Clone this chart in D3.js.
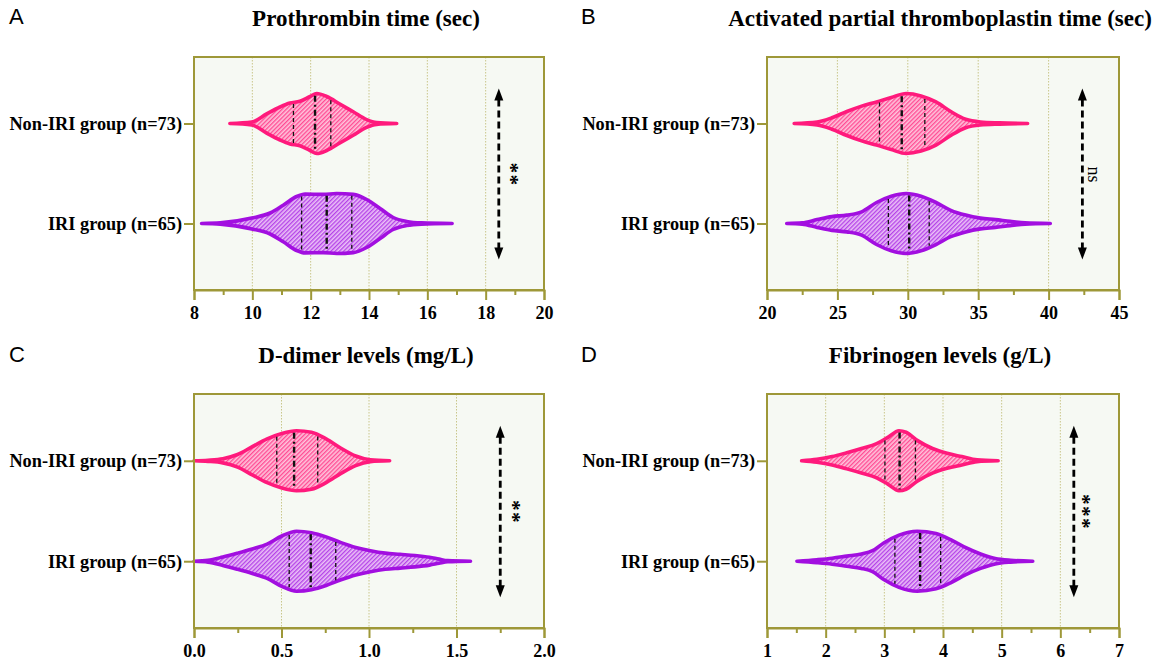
<!DOCTYPE html>
<html>
<head>
<meta charset="utf-8">
<script src="https://cdn.jsdelivr.net/npm/d3@7"></script>
<style>
  html, body { margin: 0; padding: 0; background: #ffffff; }
  svg { display: block; }
</style>
</head>
<body>
<svg id="chart" width="1159" height="663"></svg>
<script>
// ---------------- DATA ----------------
const panelLetters = ["A", "B", "C", "D"];
const panelTitles = [
  "Prothrombin time (sec)",
  "Activated partial thromboplastin time (sec)",
  "D-dimer levels (mg/L)",
  "Fibrinogen levels (g/L)"
];
const groups = ["Non-IRI group (n=73)", "IRI group (n=65)"];

const xDomains = [[8, 20], [20, 45], [0, 2], [1, 7]];
const xTickValues = [
  [8, 10, 12, 14, 16, 18, 20],
  [20, 25, 30, 35, 40, 45],
  [0, 0.5, 1.0, 1.5, 2.0],
  [1, 2, 3, 4, 5, 6, 7]
];
const xTickLabels = [
  ["8", "10", "12", "14", "16", "18", "20"],
  ["20", "25", "30", "35", "40", "45"],
  ["0.0", "0.5", "1.0", "1.5", "2.0"],
  ["1", "2", "3", "4", "5", "6", "7"]
];
const xMinorTicks = [
  [9, 11, 13, 15, 17, 19],
  [22.5, 27.5, 32.5, 37.5, 42.5],
  [0.25, 0.75, 1.25, 1.75],
  [1.5, 2.5, 3.5, 4.5, 5.5, 6.5]
];

// violin profiles: [value, relative density]
const ptNonIRI = [[9.23,0],[9.98,0.05],[10.49,0.32],[10.95,0.55],[11.29,0.68],[11.63,0.74],[11.98,0.9],[12.21,1],[12.55,0.9],[13.0,0.65],[13.46,0.39],[13.92,0.13],[14.26,0.03],[14.95,0]];
const ptIRI    = [[8.26,0],[8.9,0.02],[9.98,0.18],[10.61,0.35],[11.06,0.61],[11.52,0.9],[11.81,0.98],[12.43,0.97],[12.89,1],[13.46,0.97],[13.92,0.8],[14.38,0.5],[14.83,0.2],[15.29,0.07],[15.8,0.02],[16.85,0]];
const apttNonIRI = [[21.93,0],[23.56,0.05],[24.61,0.19],[25.67,0.4],[26.72,0.58],[27.78,0.72],[28.83,0.87],[29.89,1],[30.94,0.92],[32.0,0.72],[33.05,0.4],[34.11,0.14],[35.16,0.05],[36.5,0.02],[38.51,0]];
const apttIRI    = [[21.4,0],[22.5,0.02],[23.56,0.13],[24.61,0.23],[25.67,0.28],[26.72,0.39],[27.78,0.7],[28.83,0.91],[29.89,1],[30.94,0.91],[32.0,0.7],[33.05,0.44],[34.11,0.28],[35.16,0.18],[36.22,0.13],[37.27,0.07],[38.33,0.02],[40.12,0]];
const ddNonIRI = [[0,0],[0.08,0.02],[0.165,0.07],[0.249,0.21],[0.333,0.47],[0.418,0.73],[0.502,0.91],[0.586,1],[0.671,0.95],[0.755,0.73],[0.84,0.42],[0.924,0.16],[1.008,0.03],[1.118,0]];
const ddIRI    = [[0,0],[0.08,0.03],[0.165,0.14],[0.249,0.27],[0.333,0.41],[0.418,0.57],[0.502,0.84],[0.586,1],[0.671,0.95],[0.755,0.81],[0.84,0.62],[0.924,0.46],[1.008,0.35],[1.093,0.27],[1.177,0.23],[1.262,0.19],[1.346,0.13],[1.40,0.07],[1.45,0.02],[1.58,0]];
const fibNonIRI = [[1.59,0],[1.85,0.05],[2.11,0.14],[2.36,0.27],[2.61,0.41],[2.87,0.57],[3.06,0.78],[3.25,1],[3.37,0.95],[3.56,0.68],[3.82,0.41],[4.07,0.25],[4.32,0.14],[4.58,0.03],[4.94,0]];
const fibIRI    = [[1.51,0],[1.85,0.05],[2.11,0.1],[2.36,0.17],[2.61,0.24],[2.8,0.35],[2.99,0.61],[3.25,0.87],[3.56,1],[3.88,0.92],[4.13,0.72],[4.39,0.45],[4.64,0.24],[4.89,0.09],[5.15,0.03],[5.53,0]];

const violins = [[ptNonIRI, ptIRI], [apttNonIRI, apttIRI], [ddNonIRI, ddIRI], [fibNonIRI, fibIRI]];

// quartiles [Q1, median, Q3]
const quartiles = [
  [[11.41, 12.15, 12.69], [11.69, 12.55, 13.41]],
  [[27.99, 29.57, 31.21], [28.62, 30.10, 31.52]],
  [[0.473, 0.572, 0.707], [0.544, 0.667, 0.81]],
  [[3.01, 3.26, 3.53], [3.18, 3.61, 3.96]]
];

const sigLabels = ["**", "ns", "**", "***"];
const arrowX = [18.45, 42.4, 1.75, 6.23];
const sigX = [18.98, 43.1, 1.84, 6.45];

// ---------------- LAYOUT / STYLE ----------------
const boxes = [
  {x0: 194, x1: 544, y0: 57, y1: 290, lx: 9, ly: 24},
  {x0: 767, x1: 1119, y0: 57, y1: 290, lx: 581, ly: 24},
  {x0: 194, x1: 544, y0: 394, y1: 628, lx: 9, ly: 362},
  {x0: 767, x1: 1119, y0: 394, y1: 628, lx: 581, ly: 362}
];
const axisColor = "#9e9838";
const gridColor = "#c9c68a";
const bgColor = "#f6f9f3";
const groupStyles = [
  {stroke: "#ff1a7c", stripe: "#ff4b93", bg: "#ffc4dc"},
  {stroke: "#a20fe0", stripe: "#b443e8", bg: "#ebc0f7"}
];
const serif = "'Liberation Serif', 'Times New Roman', serif";
const sans = "'Liberation Sans', Arial, sans-serif";
const maxHalf = 30;

const svg = d3.select("#chart");
const defs = svg.append("defs");
groupStyles.forEach((s, i) => {
  const p = defs.append("pattern")
    .attr("id", "hatch" + i)
    .attr("patternUnits", "userSpaceOnUse")
    .attr("width", 3.0).attr("height", 3.0)
    .attr("patternTransform", "rotate(45)");
  p.append("rect").attr("width", 3.0).attr("height", 3.0).attr("fill", s.bg);
  p.append("rect").attr("width", 1.35).attr("height", 3.0).attr("fill", s.stripe);
});

function interpW(profile, v) {
  for (let i = 0; i < profile.length - 1; i++) {
    const a = profile[i], b = profile[i + 1];
    if (v >= a[0] && v <= b[0]) {
      const t = (v - a[0]) / (b[0] - a[0]);
      return a[1] + t * (b[1] - a[1]);
    }
  }
  return 0;
}

boxes.forEach((bx, pi) => {
  const g = svg.append("g");
  const x = d3.scaleLinear().domain(xDomains[pi]).range([bx.x0, bx.x1]);
  const y = d3.scalePoint().domain(groups).range([bx.y0, bx.y1]).padding(0.665);
  const w = d3.scaleLinear().domain([0, 1]).range([0, maxHalf]);

  // background
  g.append("rect").attr("x", bx.x0).attr("y", bx.y0)
    .attr("width", bx.x1 - bx.x0).attr("height", bx.y1 - bx.y0)
    .attr("fill", bgColor);

  // gridlines
  g.selectAll(".grid").data(xTickValues[pi].slice(1, -1)).join("line")
    .attr("x1", d => x(d)).attr("x2", d => x(d))
    .attr("y1", bx.y0).attr("y2", bx.y1)
    .attr("stroke", gridColor).attr("stroke-width", 1)
    .attr("stroke-dasharray", "1.5,1.5");

  // violins
  groups.forEach((grp, gi) => {
    const prof = violins[pi][gi];
    const cy = y(grp);
    const area = d3.area()
      .x(d => x(d[0]))
      .y0(d => cy - w(d[1]))
      .y1(d => cy + w(d[1]))
      .curve(d3.curveMonotoneX);
    g.append("path").datum(prof)
      .attr("d", area)
      .attr("fill", "url(#hatch" + gi + ")")
      .attr("stroke", groupStyles[gi].stroke)
      .attr("stroke-width", 3.6)
      .attr("stroke-linejoin", "round");

    // quartile lines
    quartiles[pi][gi].forEach((q, qi) => {
      const hw = w(interpW(prof, q)) - 1.5;
      g.append("line")
        .attr("x1", x(q)).attr("x2", x(q))
        .attr("y1", cy - hw).attr("y2", cy + hw)
        .attr("stroke", "#111")
        .attr("stroke-width", qi === 1 ? 2.4 : 1.3)
        .attr("stroke-dasharray", qi === 1 ? "6,3,2,3" : "4,3");
    });
  });

  // frame
  g.append("rect").attr("x", bx.x0).attr("y", bx.y0)
    .attr("width", bx.x1 - bx.x0).attr("height", bx.y1 - bx.y0)
    .attr("fill", "none").attr("stroke", axisColor).attr("stroke-width", 2);

  // x axis
  const xAxis = d3.axisBottom(x).tickValues(xTickValues[pi])
    .tickFormat((d, i) => xTickLabels[pi][i]).tickSize(10).tickPadding(6);
  const xa = g.append("g").attr("transform", `translate(0,${bx.y1})`).call(xAxis);
  xa.select(".domain").attr("stroke", axisColor).attr("stroke-width", 2);
  xa.selectAll(".tick line").attr("stroke", axisColor).attr("stroke-width", 2);
  xa.selectAll(".tick text").attr("fill", "#000")
    .attr("font-family", serif).attr("font-weight", "bold").attr("font-size", 18);
  const xMinor = d3.axisBottom(x).tickValues(xMinorTicks[pi]).tickSize(5).tickFormat("");
  const xm = g.append("g").attr("transform", `translate(0,${bx.y1})`).call(xMinor);
  xm.select(".domain").remove();
  xm.selectAll(".tick line").attr("stroke", axisColor).attr("stroke-width", 2);

  // y axis
  const yAxis = d3.axisLeft(y).tickSize(10).tickPadding(2);
  const ya = g.append("g").attr("transform", `translate(${bx.x0},0)`).call(yAxis);
  ya.select(".domain").remove();
  ya.selectAll(".tick line").attr("stroke", axisColor).attr("stroke-width", 2);
  ya.selectAll(".tick text").attr("fill", "#000")
    .attr("font-family", serif).attr("font-weight", "bold").attr("font-size", 18.3);

  // significance arrow
  const ax = x(arrowX[pi]);
  const yTop = y(groups[0]) - 35, yBot = y(groups[1]) + 36;
  const headL = 12, headW = 4.5;
  g.append("line").attr("x1", ax).attr("x2", ax)
    .attr("y1", yTop + headL - 1).attr("y2", yBot - headL + 1)
    .attr("stroke", "#000").attr("stroke-width", 2.8)
    .attr("stroke-dasharray", "7,4");
  g.append("path")
    .attr("d", `M${ax},${yTop} L${ax - headW},${yTop + headL} L${ax + headW},${yTop + headL} Z`)
    .attr("fill", "#000");
  g.append("path")
    .attr("d", `M${ax},${yBot} L${ax - headW},${yBot - headL} L${ax + headW},${yBot - headL} Z`)
    .attr("fill", "#000");

  // significance label (rotated, reading top to bottom)
  const sx = x(sigX[pi]);
  const sy = (y(groups[0]) + y(groups[1])) / 2 + 1;
  const isStar = sigLabels[pi] !== "ns";
  g.append("text")
    .attr("transform", `translate(${sx},${sy}) rotate(90)`)
    .attr("text-anchor", "middle")
    .attr("dy", isStar ? "0.5em" : "0.25em")
    .attr("font-family", serif)
    .attr("font-weight", isStar ? "bold" : "normal")
    .attr("font-size", isStar ? 21 : 18)
    .attr("letter-spacing", isStar ? "1.5px" : "0px")
    .attr("fill", "#000")
    .text(sigLabels[pi]);

  // title
  g.append("text")
    .attr("x", (bx.x0 + bx.x1) / 2 - 3).attr("y", bx.y0 - 31)
    .attr("text-anchor", "middle")
    .attr("font-family", serif).attr("font-weight", "bold").attr("font-size", 23)
    .attr("fill", "#000")
    .text(panelTitles[pi]);

  // panel letter
  g.append("text")
    .attr("x", bx.lx).attr("y", bx.ly)
    .attr("font-family", sans).attr("font-size", 22).attr("fill", "#000")
    .text(panelLetters[pi]);
});
</script>
</body>
</html>
